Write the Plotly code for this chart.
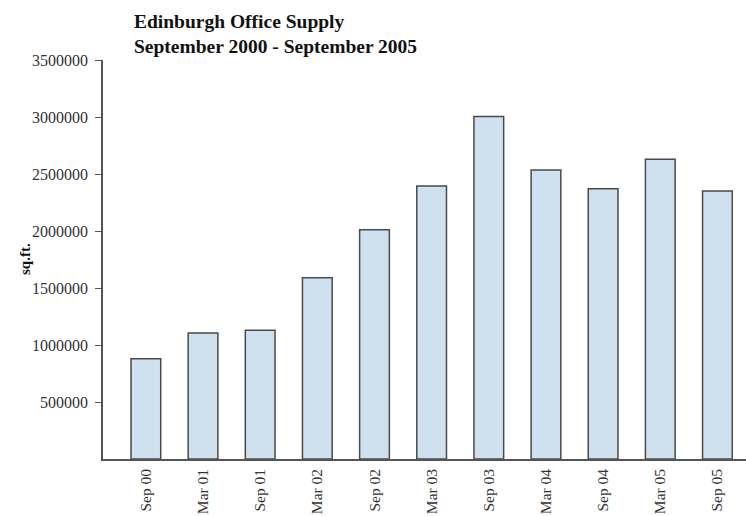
import plotly.graph_objects as go

periods = ["Sep 00", "Mar 01", "Sep 01", "Mar 02", "Sep 02", "Mar 03",
           "Sep 03", "Mar 04", "Sep 04", "Mar 05", "Sep 05"]
supply_sqft = [880000, 1105000, 1130000, 1590000, 2010000, 2395000,
               3005000, 2535000, 2370000, 2630000, 2350000]
y_ticks = [500000, 1000000, 1500000, 2000000, 2500000, 3000000, 3500000]

FONT = "Liberation Serif"
W, H = 746, 516
L, R, T, B = 103, 0, 60, 57

fig = go.Figure()
fig.add_trace(go.Bar(
    x=periods,
    y=supply_sqft,
    width=0.52,
    marker=dict(color="#cfe1ef", line=dict(color="#4a4a4a", width=1.5)),
))

fig.update_layout(
    width=W, height=H,
    margin=dict(l=L, r=R, t=T, b=B, autoexpand=False),
    paper_bgcolor="white", plot_bgcolor="white",
    showlegend=False,
    font=dict(family=FONT, size=15, color="#333333"),
    title=dict(
        text="<b>Edinburgh Office Supply<br>September 2000 - September 2005</b>",
        font=dict(family=FONT, size=19.5, color="#111111"),
        x=134 / W, xanchor="left", xref="container",
        y=1 - 28 / H, yanchor="top", yref="container",
    ),
    xaxis=dict(
        type="category",
        range=[-0.75, 10.5],
        automargin=False,
        showline=True, linecolor="#555555", linewidth=1.5,
        ticks="", tickangle=-90,
        ticklabelstandoff=2,
        showgrid=False, zeroline=False,
        tickfont=dict(family=FONT, size=15.5, color="#333333"),
    ),
    yaxis=dict(
        range=[0, 3500000],
        automargin=False,
        tickvals=y_ticks,
        ticktext=[str(v) for v in y_ticks],
        showline=True, linecolor="#555555", linewidth=1.5,
        ticks="outside", ticklen=6, tickcolor="#555555", tickwidth=1.2,
        ticklabelstandoff=4,
        showgrid=False, zeroline=False,
        tickfont=dict(family=FONT, size=16, color="#333333"),
    ),
    annotations=[dict(
        text="<b>sq.ft.</b>", textangle=-90,
        x=(25 - L) / (W - L - R), xref="paper", xanchor="center",
        y=(H - B - 259) / (H - B - T), yref="paper", yanchor="middle",
        showarrow=False,
        font=dict(family=FONT, size=15, color="#111111"),
    )],
)

fig.write_html("out.html", config={"displayModeBar": False},
               post_script="document.body.style.margin='0';")
